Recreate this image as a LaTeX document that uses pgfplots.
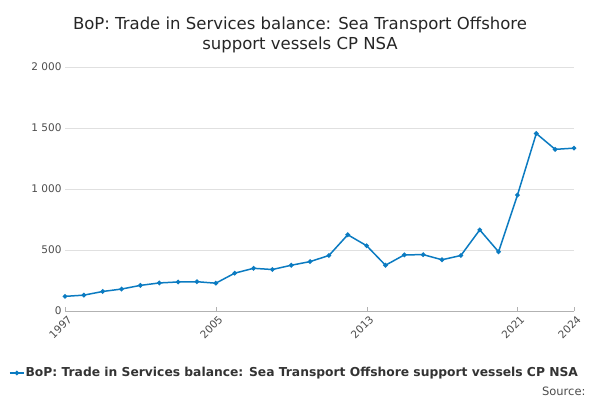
\documentclass[border=0pt]{standalone}
\usepackage{pgfplots}
\pgfplotsset{compat=1.18}
\usepackage{fontspec}
\setmainfont{DejaVu Sans}
\definecolor{ln}{HTML}{0B7BC1}
\begin{document}
\begin{tikzpicture}
\path[use as bounding box] (0,0) rectangle (600pt,400pt);
\node[align=center,font=\fontsize{16.5}{20}\selectfont,text=black!85] at (300pt,365pt) {BoP: Trade in Services balance: Sea Transport Offshore\\support vessels CP NSA};
\begin{axis}[at={(65pt,89pt)},anchor=origin,
 width=509pt,height=244pt,scale only axis,
 xmin=1997,xmax=2024,ymin=0,ymax=2000,
 axis y line*=left, axis x line*=bottom,
 y axis line style={draw=none},
 x axis line style={draw=black!30,-},
 ymajorgrids, grid style={black!12},
 ytick={0,500,1000,1500,2000},
 yticklabels={0,500,1 000,1 500,2 000},
 xtick={1997,2005,2013,2021,2024},
 xticklabels={1997,2005,2013,2021,2024},
 x tick label style={rotate=45,anchor=north east,font=\fontsize{10.5}{12}\selectfont,text=black!70,inner sep=1pt,yshift=-3pt},
 y tick label style={font=\fontsize{10.5}{12}\selectfont,text=black!70},
 xtick style={draw=black!30}, ytick style={draw=none},
 /pgf/number format/assume math mode=true,
 legend style={at={(0.45,-0.254)},anchor=center,draw=none,font=\fontsize{12.3}{14}\selectfont\bfseries,text=black!80,inner sep=0pt,
   nodes={inner sep=1pt}},
 legend image code/.code={\draw[#1] (0pt,0pt) -- (14pt,0pt); \path[#1,mark repeat=1] plot coordinates {(7pt,0pt)};},
 clip=false]
\addplot[ln,line width=1.5pt,mark=*,mark size=1.5pt] coordinates {
(1997,120)(1998,130)(1999,160)(2000,180)(2001,210)(2002,230)(2003,238)(2004,240)
(2005,228)(2006,310)(2007,350)(2008,340)(2009,375)(2010,405)(2011,455)(2012,625)
(2013,535)(2014,375)(2015,460)(2016,462)(2017,420)(2018,455)(2019,665)(2020,485)
(2021,950)(2022,1455)(2023,1325)(2024,1335)};
\addlegendentry{BoP: Trade in Services balance: Sea Transport Offshore support vessels CP NSA}
\end{axis}
\node[anchor=east,font=\fontsize{11.5}{14}\selectfont,text=black!70] at (589pt,9pt) {Source:};
\end{tikzpicture}
\end{document}
